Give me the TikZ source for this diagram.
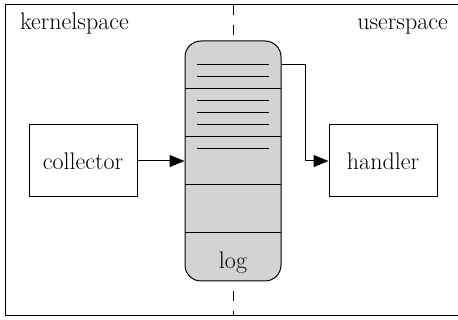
\documentclass[tikz,border=0pt]{standalone}
\usetikzlibrary{arrows.meta}

\definecolor{logfill}{RGB}{211,211,211}

\tikzset{
  box/.style={draw,line width=1pt,minimum width=108pt,minimum height=72pt,inner sep=0pt},
  logbox/.style={draw,fill=logfill,line width=1pt,rounded corners=16pt,minimum width=96pt,minimum height=240pt,inner sep=0pt},
  flow/.style={line width=1pt,-{Triangle[length=15pt,width=12pt]}},
  entry/.style={line width=1pt},
  split/.style={line width=1pt,dash pattern=on 10pt off 10.4pt}
}

\begin{document}
\begin{tikzpicture}[x=1pt,y=1pt,yscale=-1,xscale=1,font=\fontsize{24}{28}\selectfont]
\useasboundingbox (0,0) rectangle (458,320);

% Frame
\draw[line width=1pt] (5,5) rectangle (470,316);

% Split between the two spaces
\coordinate (top) at (233,5);
\coordinate (bottom) at (233,316);
\draw[split] (top) -- (bottom);

% Text Node
\node[anchor=base west,inner sep=0pt] (kernel) at (20,30) {kernelspace};
% Text Node
\node[anchor=base east,inner sep=0pt] (user) at (448,30) {userspace};

% Log
\node[logbox] (log) at (233,161) {};
\foreach \y in {89,137,185,233}
  \draw[entry] (185,\y) -- (281,\y);
\foreach \y in {65,77,101,113,125,149}
  \draw[entry] (197,\y) -- (269,\y);
\node[anchor=base,inner sep=0pt] (logname) at (233,269) {log};

% Boxes
\node[box] (collector) at (83,161) {collector};
\node[box] (handler) at (383,161) {handler};

% Arrows
\draw[flow] (collector) -- (log);
\coordinate (head) at ([yshift=24pt]log.north east);
\draw[flow] (head) -- ++(24,0) |- (handler);

\end{tikzpicture}
\end{document}
